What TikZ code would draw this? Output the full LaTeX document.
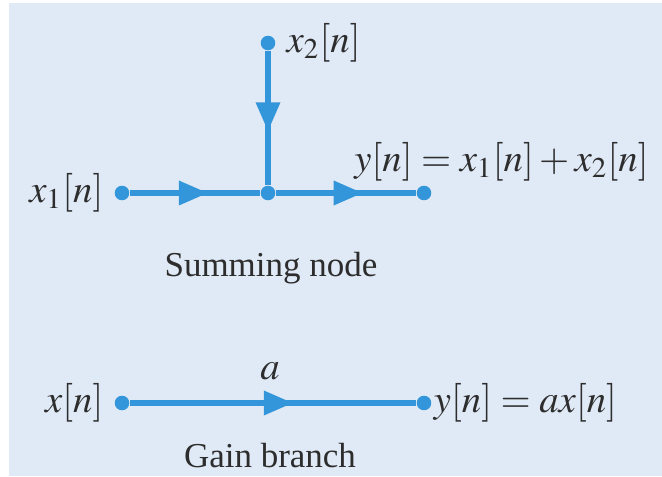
\documentclass[tikz,border=0pt]{standalone}
\usepackage{mathptmx}
\usepackage[no-math]{fontspec}
\setmainfont{Liberation Serif}
\usetikzlibrary{positioning}
\usetikzlibrary{arrows.meta}
\usetikzlibrary{decorations.markings}
\definecolor{flowblue}{RGB}{52,150,218}
\definecolor{panelbg}{RGB}{224,234,246}
\definecolor{inkgray}{RGB}{45,45,45}

\begin{document}
\begin{tikzpicture}[x=0.343pt, y=-0.343pt,
        % Branch of a signal flow graph, arrow part way along
        branch/.style={draw=flowblue, line width=1.9pt,
        postaction={decorate}, decoration={markings,
        mark=at position #1 with {\arrow{Triangle[length=10pt,width=8pt]}}}},
        branch/.default=0.6,
        % Filled node dot
        dot/.style={circle, fill=flowblue, inner sep=0pt, minimum size=5pt},
        % Signal labels and captions
        sig/.style={font=\fontsize{13.3}{15}\selectfont, text=inkgray, inner sep=2pt},
        caption/.style={font=\fontsize{12}{14}\selectfont, text=inkgray}
    ]

    \useasboundingbox (0,0) rectangle (662,476);
    \fill[panelbg] (9,3) rectangle (662,476);

    % --- Summing node ---
    \node[dot] (x1) at (122,193) {};
    \node[dot] (sum) at (268,193) {};
    \node[dot] (ysum) at (424,193) {};
    \node[dot] (x2) at (268,43) {};

    \draw[branch=0.6] (x1) -- (sum);
    \draw[branch=0.62] (sum) -- (ysum);
    \draw[branch=0.6] (x2) -- (sum);

    \node[sig, left=1.5pt of x1] (x1_lbl) {$x_1[n]$};
    \node[sig, right=1.5pt of x2] (x2_lbl) {$x_2[n]$};
    \node[sig, anchor=south west] (ysum_lbl) at (348,188) {$y[n] = x_1[n] + x_2[n]$};
    \node[caption] (sum_caption) at (271,268) {Summing node};

    % --- Gain branch ---
    \node[dot] (xg) at (122,403) {};
    \node[dot] (yg) at (424,403) {};

    \draw[branch=0.57] (xg) -- (yg);

    \node[sig, left=1.5pt of xg] (xg_lbl) {$x[n]$};
    \node[sig, right=-1.5pt of yg] (yg_lbl) {$y[n] = a x[n]$};
    \node[sig] (gain_lbl) at (270,371) {$a$};
    \node[caption] (gain_caption) at (270,456) {Gain branch};

\end{tikzpicture}
\end{document}
